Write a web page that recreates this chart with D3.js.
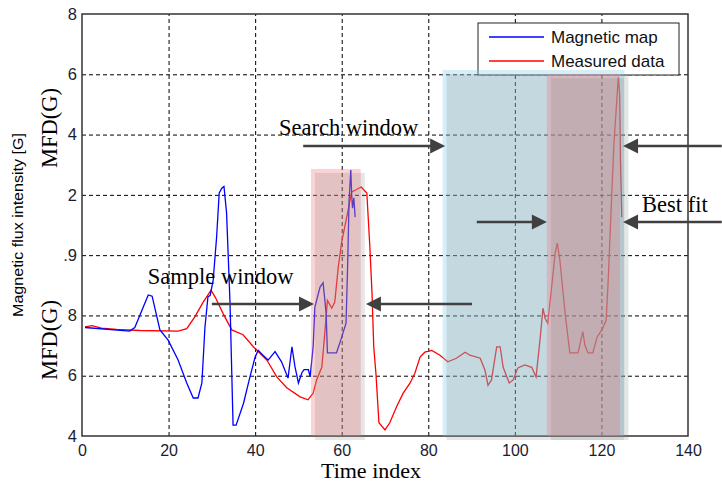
<!DOCTYPE html>
<html>
<head>
<meta charset="utf-8">
<script src="https://cdn.jsdelivr.net/npm/d3@7"></script>
<style>
  body { margin: 0; background: #fff; }
  svg { display: block; }
</style>
</head>
<body>
<svg width="722" height="485"></svg>
<script>
(function (d3) {
  'use strict';

  // x ticks (time index) and the y tick labels left visible in the figure
  const xTicks = [0, 20, 40, 60, 80, 100, 120, 140];
  const yTicks = [0, 1, 2, 3, 4, 5, 6, 7];
  const yTickLabels = ['4', '6', '8', '.9', '2', '4', '6', '8'];

  // Magnetic map (blue)
  const mapT = [0.7, 11, 12.2, 15.3, 16.2, 18, 19.9, 22.2, 24.2, 25.7, 26.8, 27.7, 28.4, 29.1, 29.6,
    30.3, 31.1, 31.7, 32.3, 32.8, 33.4, 34.2, 34.9, 35.6, 37.3, 38.8, 40, 40.7, 41.8, 43, 44.6,
    46.1, 47.6, 48.5, 49.2, 50, 50.8, 51.3, 52.3, 52.7, 53.4, 53.8, 55, 55.7, 56.4, 56.7, 58.8,
    60, 61, 61.4, 61.7, 62.1, 62.3, 62.5, 62.8, 63.1];
  const mapV = [1.80, 1.74, 1.80, 2.34, 2.32, 1.76, 1.59, 1.26, 0.88, 0.63, 0.63, 0.88, 1.80, 2.31, 2.33,
    2.58, 3.30, 4.03, 4.11, 4.14, 3.70, 2.20, 0.18, 0.18, 0.54, 0.98, 1.31, 1.42, 1.34, 1.26, 1.40,
    1.23, 0.96, 1.48, 1.15, 0.88, 1.05, 1.10, 1.10, 0.98, 1.48, 2.14, 2.47, 2.54, 2.04, 1.38, 1.38,
    1.64, 1.87, 2.92, 3.91, 4.41, 4.00, 3.78, 3.95, 3.63];

  // Measured data (red)
  const measT = [0.7, 2.3, 4.5, 8, 13.4, 22.2, 24.2, 26.1, 28, 29.8, 30.8, 32.6, 34.6, 37.2, 39.6,
    42.7, 45, 47.3, 50.4, 52.2, 53.4, 54.2, 55.4, 56.1, 56.7, 57.7, 58.4, 59.2, 60, 60.7, 61.5,
    62.3, 63.2, 64.5, 65.8, 66.5, 67, 67.4, 67.9, 68.6, 70, 71.1, 72.7, 74.2, 75.8, 76.9, 78.1,
    79.2, 80.8, 82.7, 84.5, 86.5, 88.5, 89.6, 92, 93.1, 93.8, 94.6, 95.8, 96.6, 97.3, 98.7, 99.6,
    100.7, 102.3, 103.9, 104.9, 105.8, 106.5, 107, 107.6, 108.5, 109.3, 109.8, 110.4, 111.6, 112.7,
    114.6, 115.7, 116.2, 116.9, 118, 119, 120.1, 121.1, 121.6, 122.4, 122.9, 123.4, 123.9, 124.2,
    124.4, 124.7];
  const measV = [1.81, 1.83, 1.79, 1.77, 1.75, 1.74, 1.78, 1.98, 2.22, 2.42, 2.30, 2.03, 1.76, 1.68, 1.48,
    1.26, 0.98, 0.80, 0.65, 0.60, 0.71, 0.93, 1.14, 1.71, 2.25, 2.12, 2.22, 2.80, 3.22, 3.47, 3.75,
    4.05, 4.08, 4.13, 4.03, 3.14, 2.37, 1.48, 1.04, 0.22, 0.10, 0.22, 0.49, 0.71, 0.88, 1.04, 1.31,
    1.39, 1.42, 1.34, 1.23, 1.29, 1.39, 1.34, 1.29, 1.09, 0.84, 0.93, 1.48, 1.48, 1.14, 0.88, 0.93,
    1.13, 1.18, 1.14, 0.98, 1.59, 2.12, 1.95, 1.87, 2.47, 3.03, 3.20, 2.92, 2.04, 1.38,
    1.38, 1.73, 1.50, 1.38, 1.38, 1.64, 1.76, 1.92, 2.64, 4.03, 4.86, 5.41, 5.95, 5.68,
    4.58, 3.63];

  // shaded windows: start, end (time index) and top (grid units)
  const winStart = [52.9, 83.3, 107.4];
  const winEnd = [64.4, 125.3, 124.3];
  const winTop = [4.43, 6.07, 6.0];
  const winKind = ['red', 'blue', 'red'];

  // annotation arrows: tail x, tip x, y
  const arrowTail = [30.0, 90.1, 51.1, 147.8, 91.2, 147.8];
  const arrowTip = [53.6, 65.6, 83.9, 125.0, 107.4, 125.0];
  const arrowY = [2.19, 2.19, 4.81, 4.81, 3.55, 3.55];

  // annotation texts
  const noteText = ['Sample window', 'Search window', 'Best fit'];
  const noteX = [15.2, 45.5, 129.4];
  const noteY = [2.52, 4.99, 3.71];

  const svg = d3.select('svg');
  const margin = { left: 82, top: 14, right: 688, bottom: 436 };

  const x = d3.scaleLinear().domain([0, 140]).range([margin.left, margin.right]);
  const y = d3.scaleLinear().domain([0, 7]).range([margin.bottom, margin.top]);

  const serif = '"Liberation Serif", "Times New Roman", serif';
  const sans = '"Liberation Sans", Arial, sans-serif';

  // grid
  const gridX = svg.append('g')
    .attr('transform', `translate(0,${y(0)})`)
    .call(d3.axisBottom(x).tickValues(xTicks.slice(1, -1))
      .tickSize(-(y(0) - y(7))).tickFormat(''));
  gridX.select('.domain').remove();
  gridX.selectAll('line').attr('stroke', '#000').attr('stroke-dasharray', '4,3');

  const gridY = svg.append('g')
    .attr('transform', `translate(${x(0)},0)`)
    .call(d3.axisLeft(y).tickValues(yTicks.slice(1, -1))
      .tickSize(-(x(140) - x(0))).tickFormat(''));
  gridY.select('.domain').remove();
  gridY.selectAll('line').attr('stroke', '#000').attr('stroke-dasharray', '4,3');

  // plot box
  svg.append('rect')
    .attr('x', x(0)).attr('y', y(7))
    .attr('width', x(140) - x(0)).attr('height', y(0) - y(7))
    .attr('fill', 'none').attr('stroke', '#333').attr('stroke-width', 1.5);

  // tick labels
  const xAxis = svg.append('g')
    .attr('transform', `translate(0,${y(0)})`)
    .call(d3.axisBottom(x).tickValues(xTicks).tickSize(0).tickPadding(9));
  xAxis.select('.domain').remove();
  xAxis.selectAll('text')
    .attr('font-family', sans).attr('font-size', 16).attr('fill', '#1c1c30');

  const yAxis = svg.append('g')
    .attr('transform', `translate(${x(0)},0)`)
    .call(d3.axisLeft(y).tickValues(yTicks).tickSize(0).tickPadding(5)
      .tickFormat((d, i) => yTickLabels[i]));
  yAxis.select('.domain').remove();
  yAxis.selectAll('text')
    .attr('font-family', sans).attr('font-size', 16.5).attr('fill', '#1c1c30');

  // series
  const line = d3.line()
    .x(d => x(d[0]))
    .y(d => y(d[1]));

  svg.append('path')
    .datum(measT.map((t, i) => [t, measV[i]]))
    .attr('d', line)
    .attr('fill', 'none').attr('stroke', '#ff0000').attr('stroke-width', 1.3);

  svg.append('path')
    .datum(mapT.map((t, i) => [t, mapV[i]]))
    .attr('d', line)
    .attr('fill', 'none').attr('stroke', '#0000ff').attr('stroke-width', 1.3);

  // legend
  const legend = svg.append('g');
  legend.append('rect')
    .attr('x', 478).attr('y', 23).attr('width', 201).attr('height', 52)
    .attr('fill', '#fff').attr('stroke', '#222').attr('stroke-width', 1);
  const legendNames = ['Magnetic map', 'Measured data'];
  const legendColors = ['#0000ff', '#ff0000'];
  legendNames.forEach((name, i) => {
    const ly = 37 + i * 24;
    legend.append('line')
      .attr('x1', 489).attr('x2', 544).attr('y1', ly).attr('y2', ly)
      .attr('stroke', legendColors[i]).attr('stroke-width', 1.3);
    legend.append('text')
      .attr('x', 551).attr('y', ly + 6)
      .attr('font-family', sans).attr('font-size', 17).attr('fill', '#111')
      .text(name);
  });

  // shaded windows with a soft grey shadow
  const winFill = { red: 'rgba(240,128,128,0.35)', blue: 'rgba(135,206,235,0.35)' };
  winStart.forEach((s, i) => {
    svg.append('rect')
      .attr('x', x(s)).attr('y', y(winTop[i]))
      .attr('width', x(winEnd[i]) - x(s)).attr('height', y(0) - y(winTop[i]))
      .attr('fill', winFill[winKind[i]]);
    svg.append('rect')
      .attr('x', x(s) + 4).attr('y', y(winTop[i]) + 4)
      .attr('width', x(winEnd[i]) - x(s)).attr('height', y(0) - y(winTop[i]))
      .attr('fill', 'rgba(128,128,128,0.2)');
  });

  // arrows
  const arrowColor = '#404040';
  arrowTail.forEach((t, i) => {
    const x0 = x(t), x1 = x(arrowTip[i]), ay = y(arrowY[i]);
    const dir = x1 > x0 ? 1 : -1;
    svg.append('line')
      .attr('x1', x0).attr('x2', x1 - dir * 12)
      .attr('y1', ay).attr('y2', ay)
      .attr('stroke', arrowColor).attr('stroke-width', 2.5);
    svg.append('path')
      .attr('d', `M${x1},${ay}L${x1 - dir * 15},${ay - 7.5}L${x1 - dir * 15},${ay + 7.5}Z`)
      .attr('fill', arrowColor);
  });

  // annotation texts
  noteText.forEach((txt, i) => {
    svg.append('text')
      .attr('x', x(noteX[i])).attr('y', y(noteY[i]))
      .attr('font-family', serif).attr('font-size', 22.5).attr('fill', '#000')
      .text(txt);
  });

  // axis titles
  svg.append('text')
    .attr('x', 371).attr('y', 478)
    .attr('text-anchor', 'middle')
    .attr('font-family', serif).attr('font-size', 22).attr('fill', '#000')
    .text('Time index');

  svg.append('text')
    .attr('transform', 'translate(23,225) rotate(-90)')
    .attr('text-anchor', 'middle')
    .attr('font-family', sans).attr('font-size', 15).attr('fill', '#000')
    .attr('textLength', 184).attr('lengthAdjust', 'spacingAndGlyphs')
    .text('Magnetic flux intensity [G]');

  [128, 340].forEach(cy => {
    svg.append('text')
      .attr('transform', `translate(57,${cy}) rotate(-90)`)
      .attr('text-anchor', 'middle')
      .attr('font-family', serif).attr('font-size', 22.5).attr('fill', '#000')
      .text('MFD(G)');
  });

}(d3));
</script>
</body>
</html>
